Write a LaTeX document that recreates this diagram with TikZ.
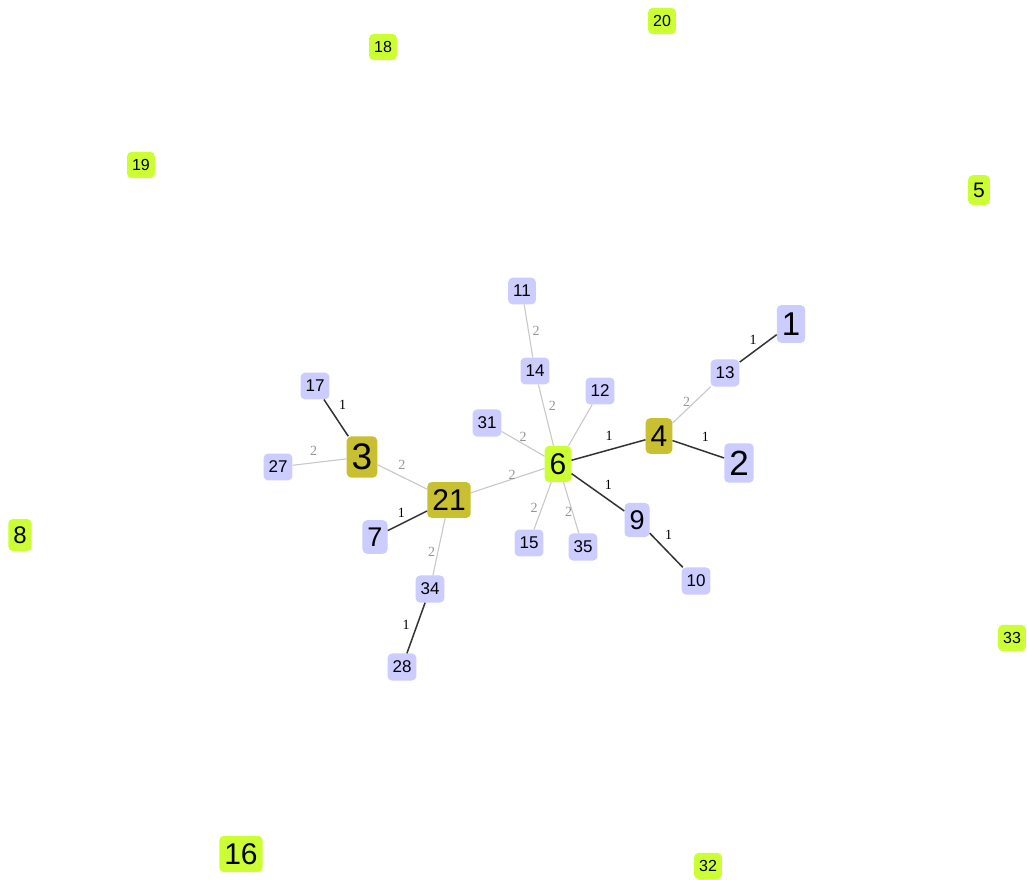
\documentclass[tikz,border=0pt]{standalone}
\usepackage{fontspec}
\setmainfont{Liberation Sans}
\newfontfamily\labfont{Liberation Serif}
\usetikzlibrary{calc}
\definecolor{lav}{RGB}{204,204,255}
\definecolor{lime}{RGB}{204,255,51}
\definecolor{oliv}{RGB}{200,192,48}
\definecolor{darkedge}{RGB}{51,51,51}
\definecolor{lightedge}{RGB}{200,200,200}
\definecolor{labgray}{RGB}{150,150,150}
\tikzset{
  nd/.style={rounded corners=4.5pt, inner xsep=5pt, inner ysep=7.5pt, text=black,
     font=\fontsize{#1}{#1}\selectfont},
  nl/.style={nd=#1, fill=lav},
  ng/.style={nd=#1, fill=lime},
  no/.style={nd=#1, fill=oliv},
  wone/.style={draw=darkedge, line width=1.5pt},
  wtwo/.style={draw=lightedge, line width=1.1pt},
  labone/.style={font=\labfont\fontsize{14}{14}\selectfont, text=black, inner sep=0pt},
  labtwo/.style={font=\labfont\fontsize{14}{14}\selectfont, text=labgray, inner sep=0pt},
}
\begin{document}
\begin{tikzpicture}[x=1pt,y=-1pt]
\fill[white] (0,0) rectangle (1027,879);
\useasboundingbox (0,0) rectangle (1027,879);
% isolated nodes
\node[ng=16] (n20) at (662,21) {20};
\node[ng=16] (n18) at (383,47) {18};
\node[ng=16] (n19) at (141,165) {19};
\node[ng=21] (n5) at (979,190) {5};
\node[ng=24] (n8) at (20,535) {8};
\node[ng=16] (n33) at (1012,638) {33};
\node[ng=30] (n16) at (241,854) {16};
\node[ng=16] (n32) at (708,866) {32};
% connected nodes
\node[nl=17] (n11) at (522,291) {11};
\node[nl=33] (n1) at (791,324) {1};
\node[nl=17] (n13) at (725,373) {13};
\node[nl=17] (n14) at (535,371) {14};
\node[nl=17] (n17) at (315,386) {17};
\node[nl=17] (n12) at (600,391) {12};
\node[nl=17] (n31) at (487,423) {31};
\node[no=30] (n4) at (659,436) {4};
\node[no=37] (n3) at (362,457) {3};
\node[ng=30] (n6) at (558,464) {6};
\node[nl=35] (n2) at (739,463) {2};
\node[nl=17] (n27) at (278,467) {27};
\node[no=30] (n21) at (449,500) {21};
\node[nl=27] (n9) at (637,520) {9};
\node[nl=27] (n7) at (375,537) {7};
\node[nl=17] (n15) at (529,543) {15};
\node[nl=17] (n35) at (583,547) {35};
\node[nl=17] (n10) at (696,581) {10};
\node[nl=17] (n34) at (430,589) {34};
\node[nl=17] (n28) at (402,667) {28};
% edges
\draw[wtwo] (n11) -- node[labtwo, pos=.5, xshift=7.5pt, yshift=0pt]{2} (n14);
\draw[wtwo] (n14) -- node[labtwo, pos=.5, xshift=6.5pt, yshift=9.5pt]{2} (n6);
\draw[wtwo] (n12) -- (n6);
\draw[wtwo] (n31) -- node[labtwo, pos=.5, xshift=0pt, yshift=6.5pt]{2} (n6);
\draw[wone] (n6) -- node[labone, pos=.5, xshift=0.5pt, yshift=14pt]{1} (n4);
\draw[wtwo] (n4) -- node[labtwo, pos=.5, xshift=-5pt, yshift=3.5pt]{2} (n13);
\draw[wone] (n13) -- node[labone, pos=.5, xshift=-5pt, yshift=8.5pt]{1} (n1);
\draw[wone] (n4) -- node[labone, pos=.5, xshift=7pt, yshift=12.5pt]{1} (n2);
\draw[wone] (n6) -- node[labone, pos=.5, xshift=10.5pt, yshift=7pt]{1} (n9);
\draw[wone] (n9) -- node[labone, pos=.5, xshift=2.5pt, yshift=15.5pt]{1} (n10);
\draw[wtwo] (n6) -- node[labtwo, pos=.5, xshift=-8.5pt, yshift=-2.5pt]{2} (n15);
\draw[wtwo] (n6) -- node[labtwo, pos=.5, xshift=-2.5pt, yshift=-4.5pt]{2} (n35);
\draw[wtwo] (n6) -- node[labtwo, pos=.5, xshift=4.5pt, yshift=6pt]{2} (n21);
\draw[wtwo] (n21) -- node[labtwo, pos=.5, xshift=-0.5pt, yshift=12.5pt]{2} (n3);
\draw[wone] (n3) -- node[labone, pos=.5, xshift=6.5pt, yshift=13.5pt]{1} (n17);
\draw[wtwo] (n3) -- node[labtwo, pos=.5, xshift=-6pt, yshift=11pt]{2} (n27);
\draw[wone] (n21) -- node[labone, pos=.5, xshift=-6pt, yshift=7.5pt]{1} (n7);
\draw[wtwo] (n21) -- node[labtwo, pos=.5, xshift=-7.5pt, yshift=-5.5pt]{2} (n34);
\draw[wone] (n34) -- node[labone, pos=.5, xshift=-10pt, yshift=3pt]{1} (n28);
\end{tikzpicture}
\end{document}
